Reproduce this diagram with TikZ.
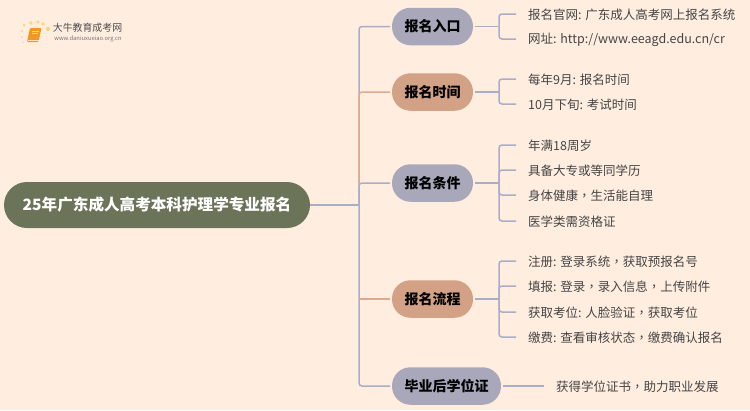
\documentclass[tikz,border=0pt]{standalone}
\usepackage{fontspec}
\setmainfont{Noto Sans CJK SC}
\newfontfamily\commafont{Noto Sans CJK TC}
\newcommand{\midcomma}{{\commafont ，}}
\usetikzlibrary{calc}
\definecolor{paper}{HTML}{FFEEE0}
\definecolor{rootgreen}{HTML}{6B7358}
\definecolor{slate}{HTML}{A8A8BA}
\definecolor{clay}{HTML}{D3A186}
\definecolor{slateline}{HTML}{A9ADC6}
\definecolor{clayline}{HTML}{DFA98C}
\definecolor{leaftext}{HTML}{444444}
\definecolor{sparkle}{HTML}{F9D77E}
\definecolor{bookface}{HTML}{F2981F}
\tikzset{
  rootbox/.style={fill=rootgreen,text=white,rounded corners=23pt,minimum width=306pt,minimum height=46pt,inner sep=0pt,font=\fontsize{15.6}{18}\selectfont\bfseries},
  branch/.style={rounded corners=18.5pt,minimum height=37.5pt,inner sep=0pt,outer sep=2pt,text=black,font=\fontsize{14}{16}\selectfont\bfseries},
  leaf/.style={anchor=west,inner ysep=0pt,inner xsep=12pt,text=leaftext,font=\fontsize{12.5}{15}\selectfont},
  link/.style={draw=slateline,line width=1.5pt,rounded corners=3pt},
  warmlink/.style={draw=clayline,line width=1.5pt,rounded corners=3pt},
}
\begin{document}
\begin{tikzpicture}[x=1pt,y=-1pt]
  \fill[paper] (0,0) rectangle (750,410);
  \useasboundingbox (0,0) rectangle (750,410);
  % logo
  \foreach \px/\py/\pr in {24/25/1.5,31/23/1.8,38/22/1.8,43/24/1.8,48/29/2.2,22/31/1.1,22/37/1,23/42/.9}
    \fill[sparkle] (\px,\py) circle (\pr);
  \fill[bookface,rounded corners=1pt] (30,28) -- (41.5,28) -- (38.5,42) -- (27,42) -- cycle;
  \draw[white!70!bookface,line width=.6pt] (27.8,40) -- (38.8,40);
  \draw[white!60!bookface,line width=.5pt] (32,31) -- (38.5,31) (31.5,33.5) -- (38,33.5);
  \node (logotitle) at (87.5,27.5) [inner sep=0pt,text=black!70,font=\fontsize{9.9}{12}\selectfont] {大牛教育成考网};
  \node (logourl) at (88,39) [inner sep=0pt,text=black!55,font=\fontsize{5.8}{7}\selectfont] {www.daniuxueiao.org.cn};
  % root and branches
  \node[rootbox] (root) at (157,205) {25年广东成人高考本科护理学专业报名};
  \node[branch,fill=slate,minimum width=81pt] (entry) at (432.5,26.5) {报名入口};
  \node[branch,fill=clay,minimum width=81pt] (period) at (432.5,92) {报名时间};
  \node[branch,fill=slate,minimum width=81pt] (terms) at (432.5,183) {报名条件};
  \node[branch,fill=clay,minimum width=81pt] (steps) at (432.5,299) {报名流程};
  \node[branch,fill=slate,minimum width=109pt] (degree) at (446.5,386) {毕业后学位证};
  % leaves
  \node[leaf] (site) at (516,15) {报名官网: 广东成人高考网上报名系统};
  \node[leaf] (addr) at (516,40) {网址: http://www.eeagd.edu.cn/cr};
  \node[leaf] (sept) at (516,80) {每年9月: 报名时间};
  \node[leaf] (oct) at (516,105) {10月下旬: 考试时间};
  \node[leaf] (age) at (516,146) {年满18周岁};
  \node[leaf] (edu) at (516,171) {具备大专或等同学历};
  \node[leaf] (body) at (516,196) {身体健康\midcomma 生活能自理};
  \node[leaf] (cert) at (516,222) {医学类需资格证};
  \node[leaf] (reg) at (516,262) {注册: 登录系统\midcomma 获取预报名号};
  \node[leaf] (fill) at (516,287) {填报: 登录\midcomma 录入信息\midcomma 上传附件};
  \node[leaf] (seat) at (516,313) {获取考位: 人脸验证\midcomma 获取考位};
  \node[leaf] (fee) at (516,338) {缴费: 查看审核状态\midcomma 缴费确认报名};
  \node[leaf] (final) at (544,387) {获得学位证书\midcomma 助力职业发展};
  % hubs
  \coordinate (spine) at (359,205);
  \coordinate (spinetop) at (359,183);
  \coordinate (hubentry) at (499,26.5);
  \coordinate (hubperiod) at (499,92);
  \coordinate (hubterms) at (499,183);
  \coordinate (hubsteps) at (499,299);
  % connectors
  \draw[link] (root.east) -- (spine);
  \draw[link] (spine) |- (entry.west);
  \draw[link] (spine) |- (terms.west);
  \draw[link] (spine) |- (degree.west);
  \draw[warmlink] (spinetop) |- (period.west);
  \draw[warmlink,line width=1.2pt] (spine |- steps) -- (steps.west);
  \draw[link] (entry.east) -- (hubentry);
  \draw[link] (hubentry) |- ([yshift=1pt]site.west);
  \draw[link] (hubentry) |- ([yshift=1pt]addr.west);
  \draw[link] (period.east) -- (hubperiod);
  \draw[link] (hubperiod) |- ([yshift=1pt]sept.west);
  \draw[link] (hubperiod) |- ([yshift=1pt]oct.west);
  \draw[link] (terms.east) -- (hubterms);
  \draw[link] (hubterms) |- ([yshift=1pt]age.west);
  \draw[link] (hubterms) |- ([yshift=1pt]edu.west);
  \draw[link] (hubterms) |- ([yshift=1pt]body.west);
  \draw[link] (hubterms) |- ([yshift=1pt]cert.west);
  \draw[link] (steps.east) -- (hubsteps);
  \draw[link] (hubsteps) |- ([yshift=1pt]reg.west);
  \draw[link] (hubsteps) |- ([yshift=1pt]fill.west);
  \draw[link] (hubsteps) |- ([yshift=1pt]seat.west);
  \draw[link] (hubsteps) |- ([yshift=1pt]fee.west);
  \draw[link] (degree.east) -- ([yshift=1pt]final.west);
\end{tikzpicture}
\end{document}
